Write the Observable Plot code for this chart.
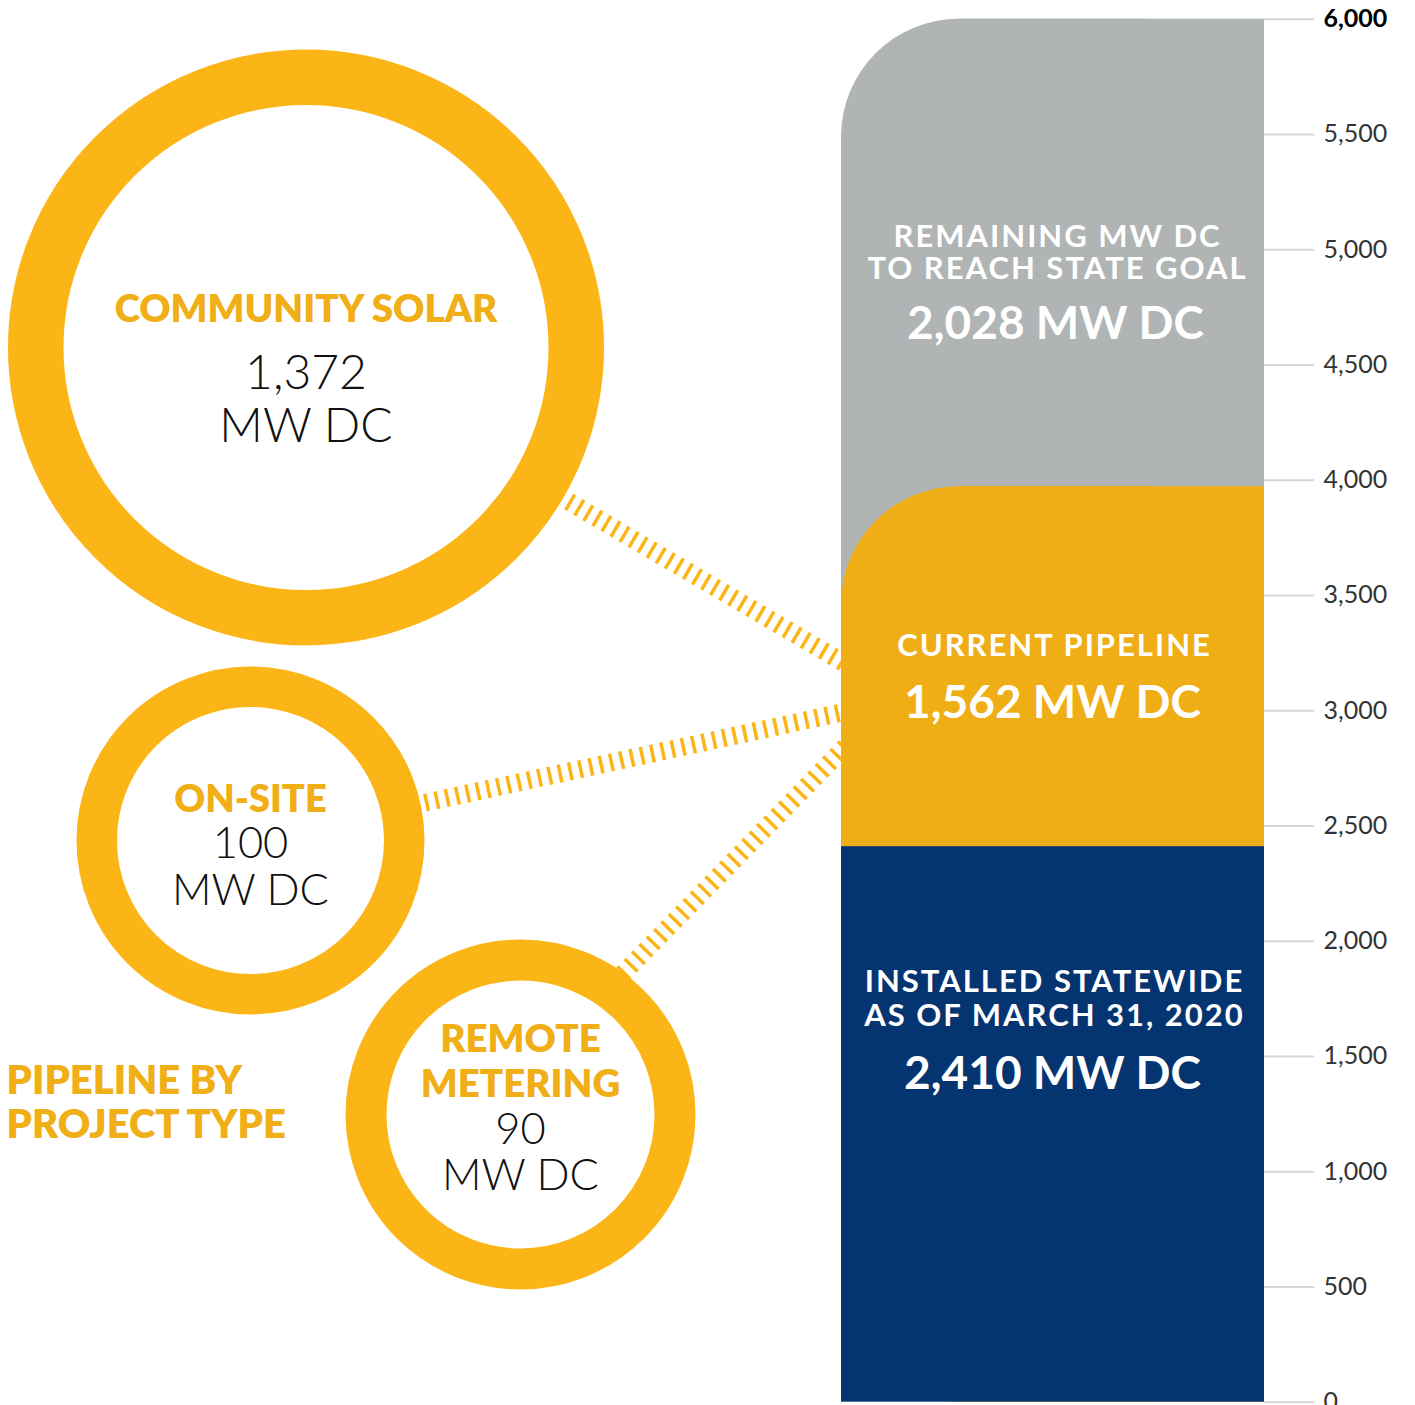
<!DOCTYPE html>
<html>
<head>
<meta charset="utf-8">
<script src="https://cdn.jsdelivr.net/npm/d3@7"></script>
<script src="https://cdn.jsdelivr.net/npm/@observablehq/plot@0.6"></script>
<style>
  html, body { margin: 0; padding: 0; background: #fff; }
  #chart svg { display: block; }
</style>
</head>
<body>
<div id="chart"></div>
<script>
// ---------- data ----------
const segments = ["INSTALLED STATEWIDE\nAS OF MARCH 31, 2020", "CURRENT PIPELINE", "REMAINING MW DC\nTO REACH STATE GOAL"];
const segmentValues = [2410, 1562, 2028];
const pipelineTypes = ["COMMUNITY SOLAR", "ON-SITE", "REMOTE\nMETERING"];
const pipelineValues = [1372, 100, 90];
const tickValues = [0, 500, 1000, 1500, 2000, 2500, 3000, 3500, 4000, 4500, 5000, 5500, 6000];
const unitLabel = "MW DC";
const captionLines = ["PIPELINE BY", "PROJECT TYPE"];

// ---------- styles ----------
const segmentColors = ["#053571", "#F0AE16", "#B1B4B5"];
const ringColor = "#FBB517";
const titleColor = "#F0AE17";
const fmt = d3.format(",");

// ---------- layout (pixels) ----------
const W = 1415, H = 1405;
const Y0 = 1401.7, Y1 = 18.7;
const yMax = d3.max(tickValues);
const py = p => (Y0 - p) * yMax / (Y0 - Y1); // pixel row -> value
const BX1 = 841, BX2 = 1264, R = 118;

const circleLayout = [
  {cx: 305.5, cy: 347, rOut: 298, rIn: 242.5, title: [321], value: 388, unit: 441, numSize: 48, titleSize: 38.5},
  {cx: 250, cy: 840, rOut: 174, rIn: 133.5, title: [811], value: 857.5, unit: 904, numSize: 43.5, titleSize: 38},
  {cx: 520, cy: 1114, rOut: 175, rIn: 134, title: [1051.6, 1096], value: 1143, unit: 1189, numSize: 43.5, titleSize: 38.5}
];
const connectorLayout = [
  {x1: 305.5, y1: 347, x2: 846, y2: 664},
  {x1: 250, y1: 840, x2: 846, y2: 711},
  {x1: 600, y1: 996, x2: 846, y2: 745}
];
const barLabelLayout = [
  {cx: 1054, lines: [991, 1025], value: 1088},
  {cx: 1054, lines: [655], value: 717},
  {cx: 1057, lines: [246, 278.5], value: 338}
];

// ---------- build ----------
const tops = d3.cumsum(segmentValues);
const bars = segments.map((label, i) => ({label, value: segmentValues[i], top: tops[i], color: segmentColors[i]}));
const barLines = segments.flatMap(s => s.split("\n"));

const marks = [];

// connectors (drawn first, under circles and bar)
marks.push(Plot.link(connectorLayout, {
  x1: "x1", y1: d => py(d.y1), x2: "x2", y2: d => py(d.y2),
  stroke: ringColor, strokeWidth: 18, strokeDasharray: "3.5,7"
}));

// stacked bar, back to front, top-left rounded corners
for (let i = bars.length - 1; i >= 0; --i) {
  const b = [bars[i]];
  const rounded = i > 0;
  marks.push(Plot.rect(b, {x1: BX1, x2: BX2, y1: 0, y2: "top", fill: "color", rx: rounded ? R : 0}));
  if (rounded) marks.push(Plot.rect(b, {x1: BX1 + R, x2: BX2, y1: 0, y2: "top", fill: "color"}));
}

// bar labels
bars.forEach((b, i) => {
  const L = barLabelLayout[i];
  b.label.split("\n").forEach((line, j) => {
    marks.push(Plot.text([line], {x: L.cx, y: py(L.lines[j]), text: d => d, lineAnchor: "bottom",
      fill: "white", fontSize: 31, fontWeight: 700}));
  });
  marks.push(Plot.text([b.value], {x: L.cx - 2, y: py(L.value), text: d => `${fmt(d)} ${unitLabel}`, lineAnchor: "bottom",
    fill: "white", fontSize: 46, fontWeight: 700}));
});

// axis ticks
marks.push(Plot.ruleY(tickValues, {x1: BX2, x2: 1314, y: d => d, stroke: "#d6d6d6", strokeWidth: 2}));
marks.push(Plot.text(tickValues.filter(d => d < yMax), {x: 1323, y: d => d, text: d => fmt(d), textAnchor: "start",
  fontSize: 25, fill: "#333"}));
marks.push(Plot.text(tickValues.filter(d => d === yMax), {x: 1323, y: d => d, text: d => fmt(d), textAnchor: "start",
  fontSize: 25, fontWeight: 700, fill: "#000"}));

// circles
pipelineTypes.forEach((t, i) => {
  const c = circleLayout[i];
  marks.push(Plot.dot([c], {x: "cx", y: d => py(d.cy), r: (c.rOut + c.rIn) / 2,
    stroke: ringColor, strokeWidth: c.rOut - c.rIn, fill: "white"}));
  t.split("\n").forEach((line, j) => {
    marks.push(Plot.text([line], {x: c.cx, y: py(c.title[j]), text: d => d, lineAnchor: "bottom",
      fill: titleColor, fontSize: c.titleSize, fontWeight: 800}));
  });
  marks.push(Plot.text([pipelineValues[i]], {x: c.cx, y: py(c.value), text: d => fmt(d), lineAnchor: "bottom",
    fill: "#111", fontSize: c.numSize, fontWeight: 300}));
  marks.push(Plot.text([unitLabel], {x: c.cx, y: py(c.unit), text: d => d, lineAnchor: "bottom",
    fill: "#111", fontSize: c.numSize, fontWeight: 300}));
});

// caption
const captionBase = [1093, 1137];
captionLines.forEach((line, j) => {
  marks.push(Plot.text([line], {x: 6, y: py(captionBase[j]), text: d => d, textAnchor: "start", lineAnchor: "bottom",
    fill: titleColor, fontSize: 40, fontWeight: 800}));
});

const chart = Plot.plot({
  width: W, height: H,
  marginTop: 0, marginRight: 0, marginBottom: 0, marginLeft: 0,
  x: {domain: [0, W], range: [0, W], axis: null},
  y: {domain: [0, yMax], range: [Y0, Y1], axis: null},
  color: {type: "identity"},
  style: {fontFamily: "Lato, 'Open Sans', sans-serif", background: "white", overflow: "hidden"},
  marks
});
// widen the bar-label tracking to match the reference typeface
d3.select(chart).selectAll("text")
  .filter(function() { return barLines.includes(this.textContent); })
  .style("letter-spacing", "2px");
document.getElementById("chart").appendChild(chart);
</script>
</body>
</html>
